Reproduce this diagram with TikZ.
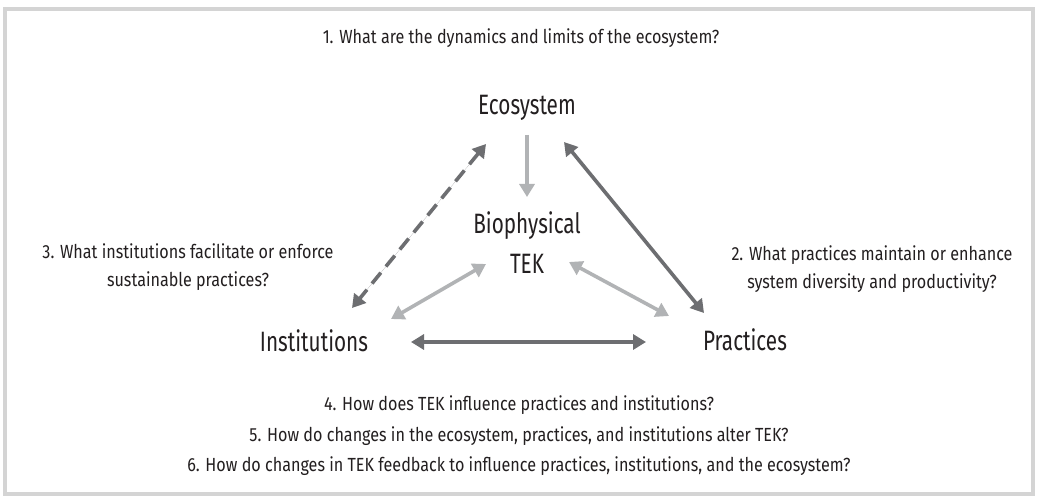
\documentclass[tikz,border=0pt]{standalone}
\usepackage{fontspec}
\setmainfont{Fira Sans}[FakeStretch=0.85]
\newfontfamily\bigfont{Fira Sans}[FakeStretch=0.74]
\usetikzlibrary{arrows.meta}
\definecolor{dark}{HTML}{6D6E71}
\definecolor{light}{HTML}{B1B3B5}
\definecolor{frame}{HTML}{D4D4D4}
\definecolor{ink}{HTML}{231F20}
\tikzset{
  q/.style={text=ink, font=\fontsize{19}{28}\selectfont, inner sep=0pt},
  big/.style={text=ink, font=\bigfont\fontsize{28}{40}\selectfont, inner sep=0pt, align=center},
  link/.style={line width=3.6pt, {Triangle[length=13pt,width=15pt]}-{Triangle[length=13pt,width=15pt]}},
  darklink/.style={link, draw=dark, fill=dark},
  lightlink/.style={link, draw=light, fill=light},
}
\begin{document}
\begin{tikzpicture}[x=1pt,y=-1pt]
\useasboundingbox (0,0) rectangle (1038,502);
\fill[white] (0,0) rectangle (1038,502);
\draw[frame, line width=4pt] (5,9) rectangle (1033,494);

\node[q] (q1) at (521,38) {1. What are the dynamics and limits of the ecosystem?};
\node[big] (eco) at (527,108) {Ecosystem};
\node[big] (bio) at (527,243) {Biophysical\\TEK};
\node[big] (inst) at (314,341) {Institutions};
\node[big] (prac) at (745,340) {Practices};
\node[q, align=center] (q3) at (188,267) {3. What institutions facilitate or enforce\\sustainable practices?};
\node[q, align=center] (q2) at (872,269) {2. What practices maintain or enhance\\system diversity and productivity?};
\node[q] (q4) at (519,405) {4. How does TEK influence practices and institutions?};
\node[q] (q5) at (519,436) {5. How do changes in the ecosystem, practices, and institutions alter TEK?};
\node[q] (q6) at (519,466) {6. How do changes in TEK feedback to influence practices, institutions, and the ecosystem?};

\coordinate (e1) at (527,135);
\coordinate (b1) at (527,197);
\coordinate (e2) at (486,144);
\coordinate (i2) at (352,308);
\coordinate (e3) at (564,142);
\coordinate (p3) at (704,313);
\coordinate (b4) at (486,264);
\coordinate (i4) at (391,319);
\coordinate (b5) at (569,262);
\coordinate (p5) at (669,316);
\coordinate (i6) at (411,342);
\coordinate (p6) at (646,342);

\draw[line width=3.6pt, light, -{Triangle[length=13pt,width=15pt]}] (e1) -- (b1);
\draw[darklink, dash pattern=on 14pt off 8pt] (e2) -- (i2);
\draw[darklink] (e3) -- (p3);
\draw[lightlink] (b4) -- (i4);
\draw[lightlink] (b5) -- (p5);
\draw[darklink] (i6) -- (p6);
\end{tikzpicture}
\end{document}
